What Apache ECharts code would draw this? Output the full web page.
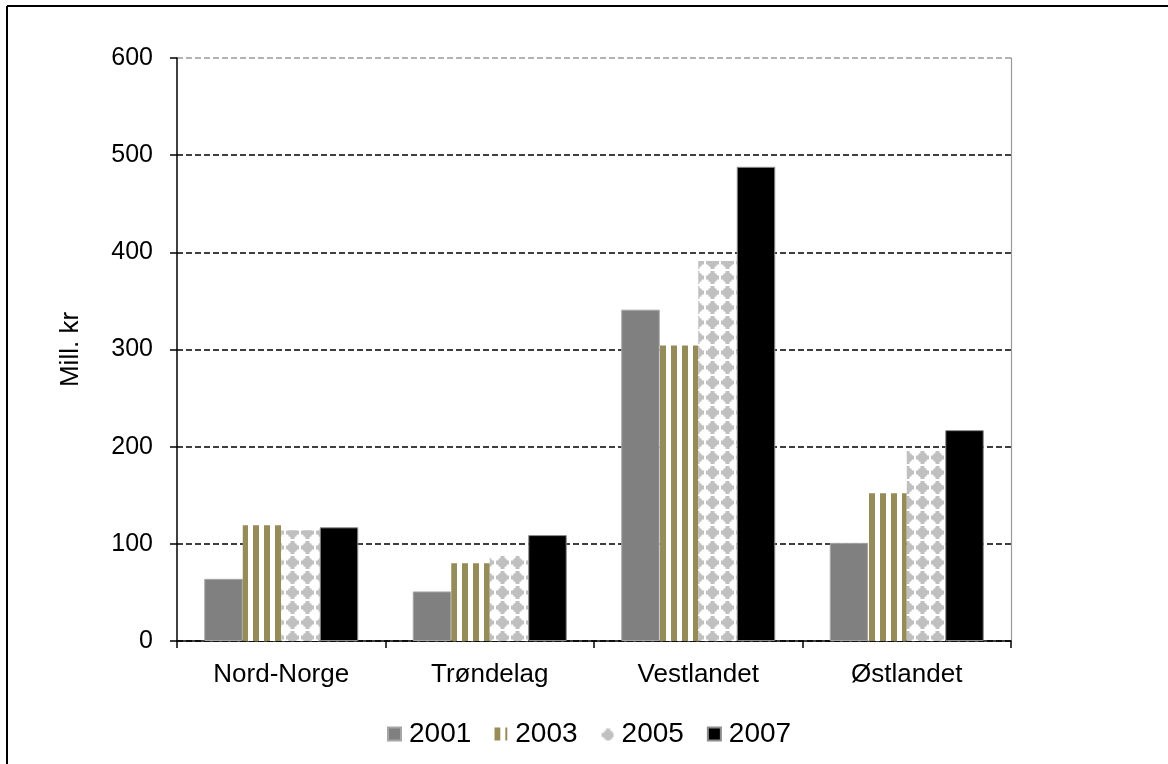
<!DOCTYPE html>
<html>
<head>
<meta charset="utf-8">
<script src="https://cdn.jsdelivr.net/npm/echarts@6/dist/echarts.min.js"></script>
<style>
html,body{margin:0;padding:0;background:#fff;}
#c{width:1168px;height:764px;}
</style>
</head>
<body>
<div id="c"></div>
<script>
const categories = ['Nord-Norge', 'Trøndelag', 'Vestlandet', 'Østlandet'];
const seriesNames = ['2001', '2003', '2005', '2007'];
const v2001 = [64, 51, 341, 101];
const v2003 = [119, 80, 304, 152];
const v2005 = [114, 88, 391, 197];
const v2007 = [117, 109, 488, 217];
const yTicks = [0, 100, 200, 300, 400, 500, 600];

function stripePattern() {
  const c = document.createElement('canvas');
  c.width = 11; c.height = 4;
  const g = c.getContext('2d');
  g.fillStyle = '#fff'; g.fillRect(0, 0, 11, 4);
  g.fillStyle = '#968C5A'; g.fillRect(0, 0, 6, 4);
  return c;
}
function diamondPattern() {
  const s = 15;
  const c = document.createElement('canvas');
  c.width = s; c.height = s;
  const g = c.getContext('2d');
  g.fillStyle = '#fff'; g.fillRect(0, 0, s, s);
  g.fillStyle = '#C0C0C0';
  const cx = 7.5, cy = 7.5, r = 6.5;
  g.beginPath();
  g.moveTo(cx, cy - r); g.lineTo(cx + r, cy); g.lineTo(cx, cy + r); g.lineTo(cx - r, cy);
  g.closePath(); g.fill();
  g.fillRect(cx - 2, cy - 6.5, 4, 13);
  g.fillRect(cx - 6.5, cy - 2, 13, 4);
  g.fillRect(cx - 4, cy - 4, 8, 8);
  return c;
}

const colors = [
  '#808080',
  { image: stripePattern(), repeat: 'repeat' },
  { image: diamondPattern(), repeat: 'repeat' },
  '#000000'
];
const borders = ['#a6a6a6', 'transparent', 'transparent', '#8c8c8c'];
const values = [v2001, v2003, v2005, v2007];

const chart = echarts.init(document.getElementById('c'), null, { renderer: 'canvas' });
const FONT = 'Liberation Sans, Arial, sans-serif';

chart.setOption({
  animation: false,
  backgroundColor: '#fff',
  grid: { left: 177, right: 157, top: 58, bottom: 123, containLabel: false },
  legend: {
    left: 382, top: 715,
    itemWidth: 13, itemHeight: 13, itemGap: 23,
    icon: 'rect',
    textStyle: { fontFamily: FONT, fontSize: 28, color: '#000', padding: [0, 0, 0, 3] },
    data: seriesNames
  },
  xAxis: {
    type: 'category',
    data: categories,
    axisLine: { lineStyle: { color: '#000', width: 1.5 } },
    axisTick: { show: true, length: 7, lineStyle: { color: '#000', width: 1.5 } },
    axisLabel: { fontFamily: FONT, fontSize: 26, color: '#000', margin: 21 },
    splitLine: { show: false }
  },
  yAxis: [{
    type: 'value',
    min: 0, max: 600, interval: 100,
    name: 'Mill. kr',
    nameLocation: 'middle',
    nameGap: 93,
    nameRotate: 90,
    nameTextStyle: { fontFamily: FONT, fontSize: 26, color: '#000' },
    axisLine: { show: true, lineStyle: { color: '#000', width: 1.5 } },
    axisTick: { show: true, length: 7, lineStyle: { color: '#000', width: 1.5 } },
    axisLabel: { fontFamily: FONT, fontSize: 25, color: '#000', margin: 24,
      formatter: v => yTicks.includes(v) ? String(v) : '' },
    splitLine: { show: true, lineStyle: { type: [6, 3], width: 1.5,
      color: ['#000', '#000', '#000', '#000', '#000', '#000', '#9a9a9a'] } }
  }, {
    type: 'value', position: 'right', min: 0, max: 600, interval: 100,
    axisLine: { show: true, lineStyle: { color: '#9a9a9a', width: 1.2 } },
    axisTick: { show: false }, axisLabel: { show: false }, splitLine: { show: false }
  }],
  series: seriesNames.map((n, i) => ({
    name: n,
    type: 'bar',
    data: values[i],
    barWidth: 38.5,
    barGap: '0%',
    itemStyle: { color: colors[i], borderColor: borders[i], borderWidth: (i === 0 || i === 3) ? 1 : 0 }
  })),
  graphic: [
    { type: 'line', shape: { x1: 7, y1: 6, x2: 1168, y2: 6 }, style: { stroke: '#000', lineWidth: 2 } },
    { type: 'line', shape: { x1: 7, y1: 6, x2: 7, y2: 764 }, style: { stroke: '#000', lineWidth: 2 } }
  ]
});
</script>
</body>
</html>
